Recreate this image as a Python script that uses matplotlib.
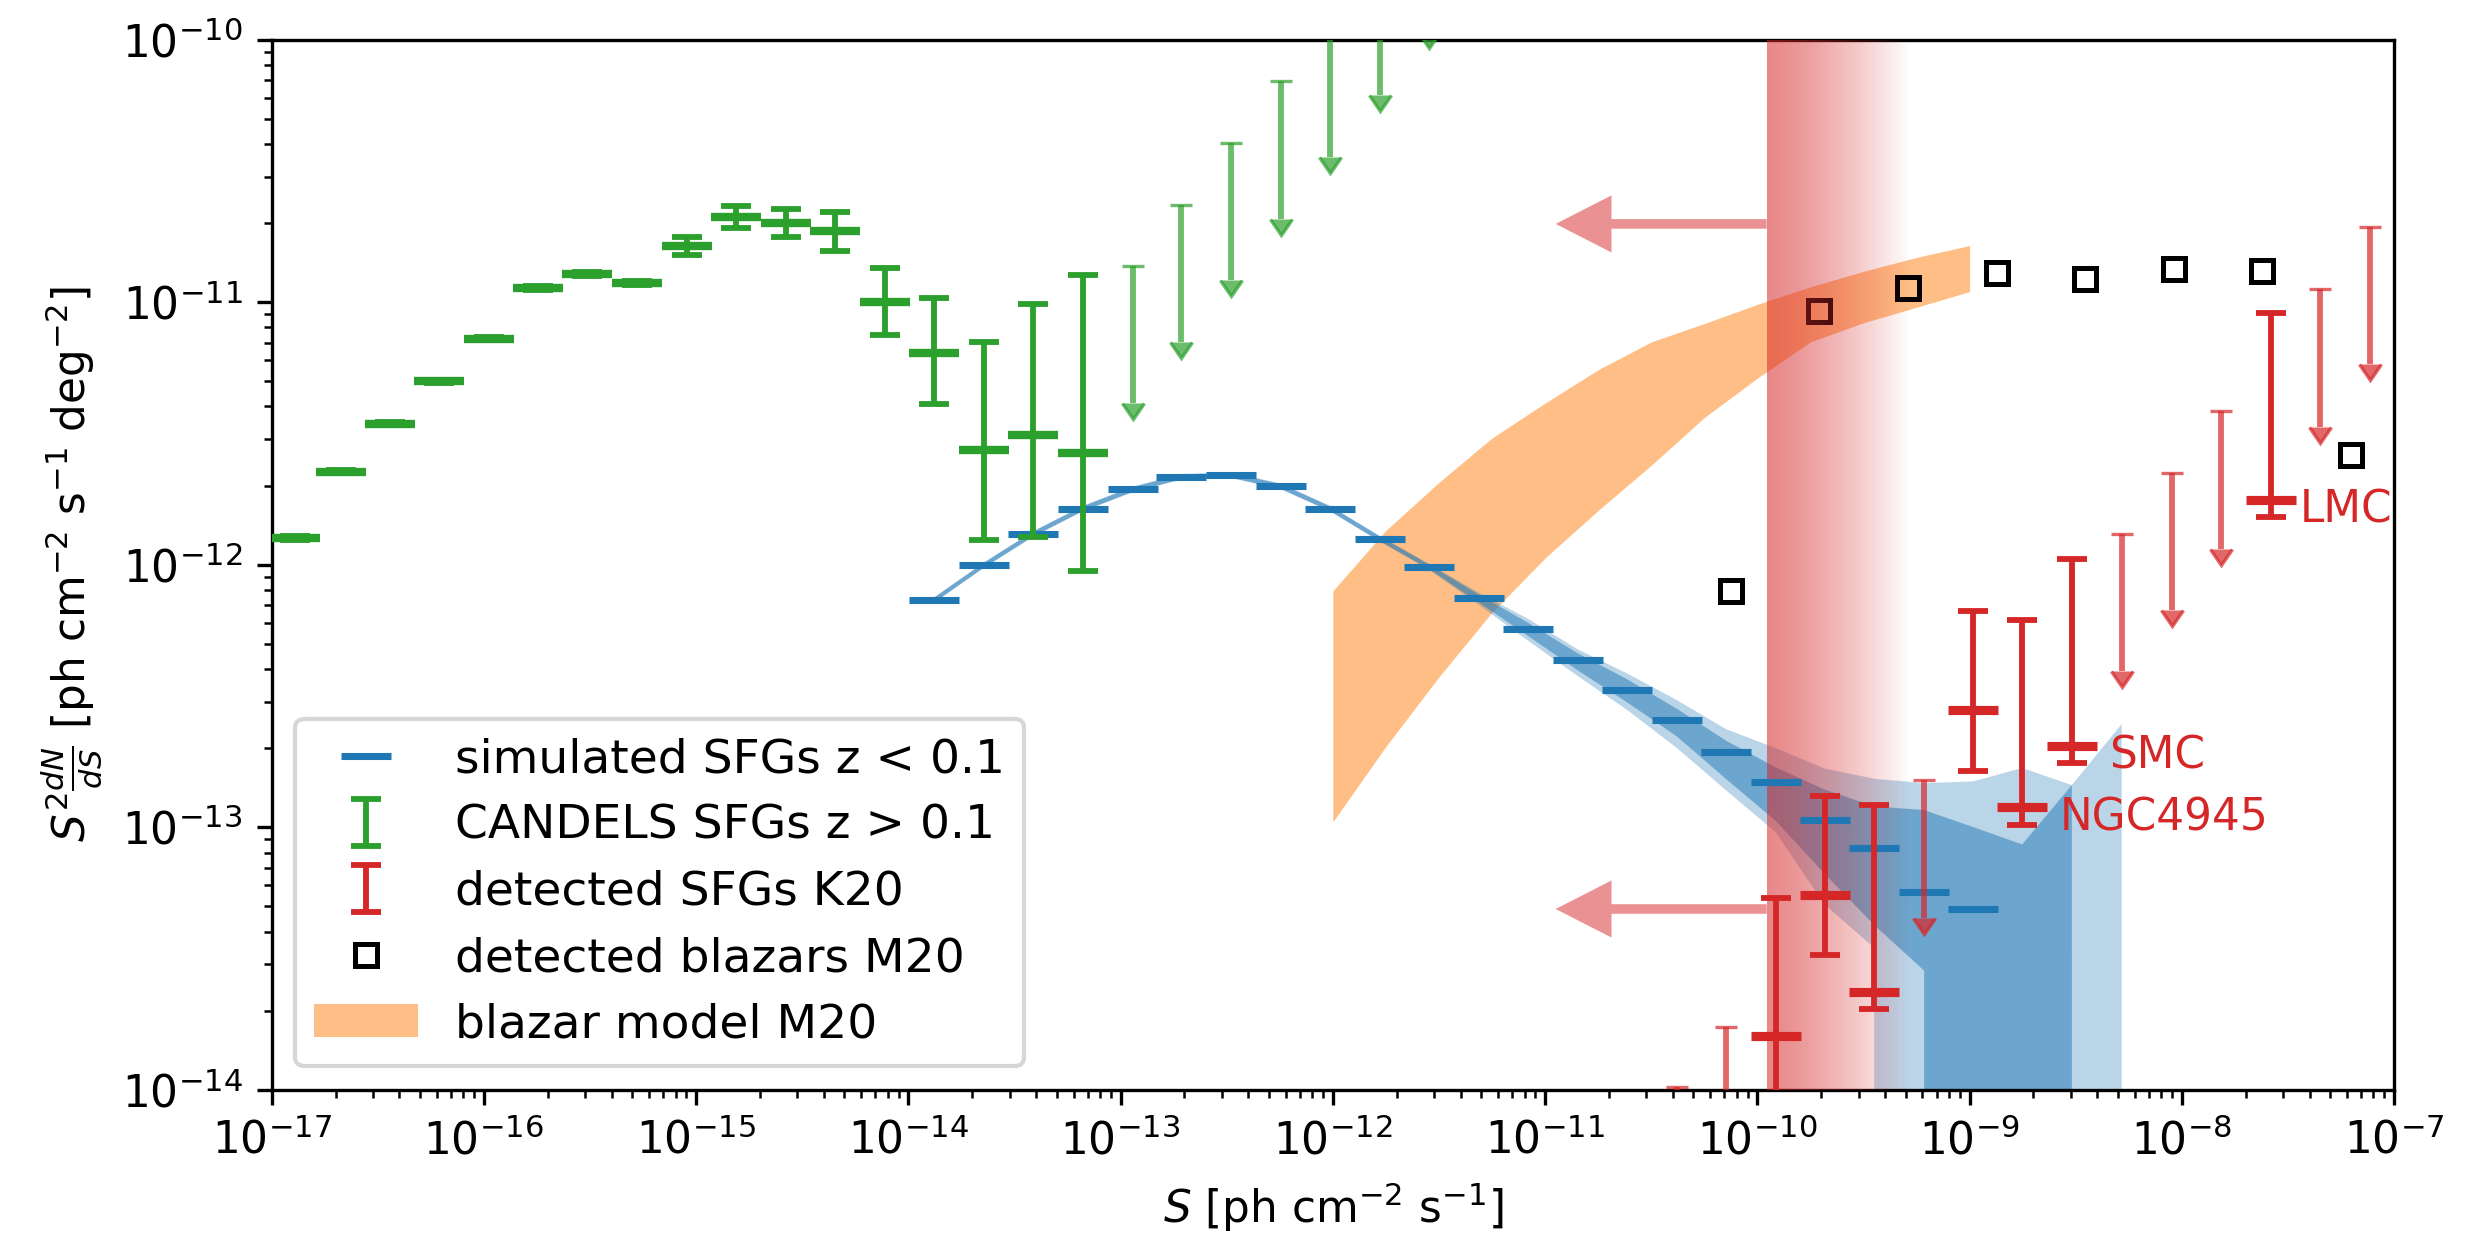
# %% Source counts: simulated SFGs, CANDELS, K20 detections and M20 blazars
import matplotlib.pyplot as plt
import numpy as np
from matplotlib.lines import Line2D
from matplotlib.patches import Patch, FancyArrowPatch
from matplotlib.ticker import LogLocator

plt.rcParams['font.size'] = 10.5

# %% Data (flux S and S^2 dN/dS)
# simulated SFGs z < 0.1 (markers + median band)
sim_S = [1.324e-14, 2.265e-14, 3.882e-14, 6.637e-14, 1.138e-13, 1.936e-13,
         3.311e-13, 5.675e-13, 9.705e-13, 1.660e-12, 2.844e-12, 4.864e-12,
         8.318e-12, 1.426e-11, 2.438e-11, 4.169e-11, 7.129e-11, 1.219e-10,
         2.075e-10, 3.556e-10, 6.109e-10, 1.040e-9]
sim_y = [7.328e-13, 9.931e-13, 1.309e-12, 1.633e-12, 1.932e-12, 2.158e-12,
         2.188e-12, 1.986e-12, 1.633e-12, 1.256e-12, 9.795e-13, 7.430e-13,
         5.702e-13, 4.325e-13, 3.327e-13, 2.553e-13, 1.936e-13, 1.483e-13,
         1.067e-13, 8.299e-14, 5.662e-14, 4.875e-14]

# uncertainty bands of the simulation (0 = no lower bound)
band_S = sim_S + [1.770e-9, 3.034e-9, 5.212e-9]
dark_hi = [7.48e-13, 1.014e-12, 1.336e-12, 1.667e-12, 1.972e-12, 2.203e-12,
           2.234e-12, 2.027e-12, 1.667e-12, 1.282e-12, 1.000e-12, 7.691e-13,
           5.998e-13, 4.592e-13, 3.656e-13, 2.825e-13, 2.133e-13, 1.690e-13,
           1.390e-13, 1.199e-13, 1.161e-13, 1.000e-13, 8.590e-14, 1.445e-13, 0]
dark_lo = [7.18e-13, 9.73e-13, 1.282e-12, 1.600e-12, 1.892e-12, 2.114e-12,
           2.143e-12, 1.945e-12, 1.600e-12, 1.230e-12, 9.593e-13, 7.178e-13,
           5.346e-13, 3.954e-13, 2.985e-13, 2.218e-13, 1.524e-13, 1.057e-13,
           6.637e-14, 4.236e-14, 2.838e-14, 0, 0, 0, 0]
light_hi = [7.51e-13, 1.018e-12, 1.342e-12, 1.674e-12, 1.981e-12, 2.213e-12,
            2.244e-12, 2.037e-12, 1.674e-12, 1.288e-12, 1.005e-12, 7.816e-13,
            6.209e-13, 4.753e-13, 3.846e-13, 3.048e-13, 2.360e-13, 2.000e-13,
            1.671e-13, 1.528e-13, 1.469e-13, 1.493e-13, 1.679e-13, 1.445e-13,
            2.472e-13]
light_lo = [7.15e-13, 9.69e-13, 1.276e-12, 1.592e-12, 1.883e-12, 2.104e-12,
            2.133e-12, 1.936e-12, 1.592e-12, 1.224e-12, 9.550e-13, 7.031e-13,
            5.129e-13, 3.758e-13, 2.793e-13, 2.004e-13, 1.380e-13, 9.572e-14,
            5.070e-14, 3.467e-14, 0, 0, 0, 0, 0]

# CANDELS SFGs z > 0.1
cand_S = [1.282e-17, 2.113e-17, 3.597e-17, 6.166e-17, 1.054e-16, 1.799e-16,
          3.076e-16, 5.260e-16, 9.016e-16, 1.542e-15, 2.642e-15, 4.519e-15,
          7.727e-15, 1.324e-14, 2.265e-14, 3.882e-14, 6.637e-14]
cand_y = [1.262e-12, 2.254e-12, 3.436e-12, 4.989e-12, 7.244e-12, 1.130e-11,
          1.279e-11, 1.180e-11, 1.637e-11, 2.113e-11, 2.000e-11, 1.862e-11,
          9.977e-12, 6.397e-12, 2.735e-12, 3.112e-12, 2.667e-12]
cand_lo = [1.245e-12, 2.225e-12, 3.395e-12, 4.930e-12, 7.160e-12, 1.112e-11,
           1.258e-11, 1.157e-11, 1.507e-11, 1.919e-11, 1.766e-11, 1.567e-11,
           7.499e-12, 4.102e-12, 1.236e-12, 1.271e-12, 9.441e-13]
cand_hi = [1.279e-12, 2.283e-12, 3.478e-12, 5.049e-12, 7.330e-12, 1.148e-11,
           1.300e-11, 1.204e-11, 1.762e-11, 2.323e-11, 2.254e-11, 2.208e-11,
           1.349e-11, 1.038e-11, 7.047e-12, 9.817e-12, 1.271e-11]
cand_ul_S = [1.138e-13, 1.936e-13, 3.311e-13, 5.675e-13, 9.705e-13, 1.660e-12,
             2.844e-12]
cand_ul_y = [1.371e-11, 2.350e-11, 4.046e-11, 6.934e-11, 1.189e-10, 2.042e-10,
             3.548e-10]

# detected SFGs K20
k20_S = [1.219e-10, 2.075e-10, 3.556e-10, 1.040e-9, 1.770e-9, 3.034e-9, 2.630e-8]
k20_y = [1.603e-14, 5.521e-14, 2.355e-14, 2.793e-13, 1.191e-13, 2.042e-13,
         1.766e-12]
k20_lo = [5.0e-15, 3.243e-14, 2.028e-14, 1.629e-13, 1.019e-13, 1.750e-13,
          1.517e-12]
k20_hi = [5.358e-14, 1.315e-13, 1.216e-13, 6.668e-13, 6.124e-13, 1.050e-12,
          9.078e-12]
k20_ul_S = [4.169e-11, 7.129e-11, 6.109e-10, 5.212e-9, 8.954e-9, 1.528e-8,
            4.487e-8, 7.691e-8]
k20_ul_y = [1.023e-14, 1.734e-14, 1.507e-13, 1.306e-12, 2.234e-12, 3.837e-12,
            1.117e-11, 1.928e-11]
galaxy_names = ['NGC4945', 'SMC', 'LMC']
galaxy_idx = [4, 5, 6]

# detected blazars M20
blz_S = [7.516e-11, 1.959e-10, 5.140e-10, 1.343e-9, 3.499e-9, 9.183e-9,
         2.382e-8, 6.252e-8]
blz_y = [7.907e-13, 9.247e-12, 1.132e-11, 1.294e-11, 1.227e-11, 1.340e-11,
         1.318e-11, 2.618e-12]

# blazar model M20
mod_S = [1.0e-12, 1.778e-12, 3.162e-12, 5.623e-12, 1.0e-11, 1.778e-11,
         3.162e-11, 5.623e-11, 1.0e-10, 1.778e-10, 3.162e-10, 5.623e-10, 1.0e-9]
mod_hi = [7.94e-13, 1.349e-12, 2.056e-12, 3.034e-12, 4.121e-12, 5.521e-12,
          7.047e-12, 8.279e-12, 9.795e-12, 1.143e-11, 1.309e-11, 1.479e-11,
          1.641e-11]
mod_lo = [1.047e-13, 2.028e-13, 3.733e-13, 6.577e-13, 1.059e-12, 1.607e-12,
          2.388e-12, 3.631e-12, 5.129e-12, 7.047e-12, 8.337e-12, 9.550e-12,
          1.096e-11]

# sensitivity threshold (fading band) and arrows
sens_lo = 1.107e-10
sens_hi = 5.2e-10
arrow_tip = 1.122e-11
arrow_y = [1.984e-11, 4.875e-14]


def upper_limits(ax, x, y, color, zorder):
    """Upper limits: cap at y, arrow pointing down."""
    eb = ax.errorbar(x, y, yerr=0.7 * np.array(y), uplims=True, fmt='none',
                     ecolor=color, alpha=0.7, elinewidth=1.4, capsize=2.6,
                     capthick=1.4, zorder=zorder)
    # carets take the cycle colour otherwise
    for cl in eb[1]:
        cl.set_color(color)
        cl.set_markerfacecolor(color)
        cl.set_markeredgecolor(color)
        cl.set_markeredgewidth(0.8)
    return eb


# %% Figure
fig = plt.figure(figsize=(2476 / 300, 1254 / 300), dpi=300)
ax = fig.add_axes([0.1097, 0.1311, 0.9669 - 0.1097, 0.9685 - 0.1311])
ax.set_xscale('log')
ax.set_yscale('log')

# blazar model band
ax.fill_between(mod_S, mod_lo, mod_hi, color='tab:orange', alpha=0.5, lw=0,
                zorder=1)

# simulation bands
ax.fill_between(band_S, light_lo, light_hi, color='tab:blue', alpha=0.3, lw=0,
                zorder=2)
ax.fill_between(band_S, dark_lo, dark_hi, color='tab:blue', alpha=0.5, lw=0,
                zorder=2)

# blazars
ax.plot(blz_S, blz_y, ls='none', marker='s', ms=5.3, mfc='none', mec='k',
        mew=1.2, zorder=3)

# fading sensitivity band (thin strips, alpha dropping to zero)
edges = np.geomspace(sens_lo, sens_hi, 81)
for i in range(80):
    t = i / 80
    ax.axvspan(edges[i], edges[i + 1], color='tab:red', lw=0,
               alpha=0.55 * (1 - t ** 1.3), zorder=4)

for ya in arrow_y:
    ax.add_patch(FancyArrowPatch(
        (sens_lo, ya), (arrow_tip, ya),
        arrowstyle='simple,head_length=13.4,head_width=13.7,tail_width=2.3',
        mutation_scale=1, shrinkA=0, shrinkB=0, color='tab:red', alpha=0.5,
        lw=0, zorder=4))

# simulated markers
ax.plot(sim_S, sim_y, ls='none', marker='_', ms=12, mew=1.7,
        color='tab:blue', zorder=5)

# CANDELS
cand_y_arr = np.array(cand_y)
cand_err = [cand_y_arr - np.array(cand_lo), np.array(cand_hi) - cand_y_arr]
cand_eb = ax.errorbar(cand_S, cand_y, yerr=cand_err, fmt='none',
                      ecolor='tab:green', elinewidth=1.4, capsize=3.5,
                      capthick=1.4, zorder=5)
ax.plot(cand_S, cand_y, ls='none', marker='_', ms=12, mew=2.0,
        color='tab:green', zorder=5)
upper_limits(ax, cand_ul_S, cand_ul_y, 'tab:green', 5)

# K20
k20_y_arr = np.array(k20_y)
k20_err = [k20_y_arr - np.array(k20_lo), np.array(k20_hi) - k20_y_arr]
k20_eb = ax.errorbar(k20_S, k20_y, yerr=k20_err, fmt='none',
                     ecolor='tab:red', elinewidth=1.4, capsize=3.5,
                     capthick=1.4, zorder=6)
ax.plot(k20_S, k20_y, ls='none', marker='_', ms=12, mew=2.2,
        color='tab:red', zorder=6)
upper_limits(ax, k20_ul_S, k20_ul_y, 'tab:red', 6)

for name, i in zip(galaxy_names, galaxy_idx):
    dx = 7 if name == 'LMC' else 9
    ax.annotate(name, (k20_S[i], k20_y[i]), xytext=(dx, -2.5),
                textcoords='offset points', va='center', ha='left',
                color='tab:red', zorder=7)

# %% Axes
ax.set_xlim(1e-17, 1e-7)
ax.set_ylim(1e-14, 1e-10)
ax.xaxis.set_major_locator(LogLocator(base=10, numticks=20))
ax.xaxis.set_minor_locator(LogLocator(base=10, subs=np.arange(2, 10),
                                      numticks=200))
ax.yaxis.set_major_locator(LogLocator(base=10, numticks=20))
ax.yaxis.set_minor_locator(LogLocator(base=10, subs=np.arange(2, 10),
                                      numticks=200))
ax.set_xlabel(r'$S$ [ph cm$^{-2}$ s$^{-1}$]')
ax.set_ylabel(r'$S^2\frac{dN}{dS}$ [ph cm$^{-2}$ s$^{-1}$ deg$^{-2}$]')

handles = [
    Line2D([], [], ls='none', marker='_', ms=12, mew=1.7, color='tab:blue'),
    cand_eb,
    k20_eb,
    Line2D([], [], ls='none', marker='s', ms=5.3, mfc='none', mec='k', mew=1.2),
    Patch(color='tab:orange', alpha=0.5, lw=0),
]
labels = ['simulated SFGs z < 0.1', 'CANDELS SFGs z > 0.1',
          'detected SFGs K20', 'detected blazars M20', 'blazar model M20']
ax.legend(handles, labels, loc='lower left', fontsize=11.3, handlelength=2.2,
          labelspacing=0.45)

fig.savefig('out.png', dpi=300)
